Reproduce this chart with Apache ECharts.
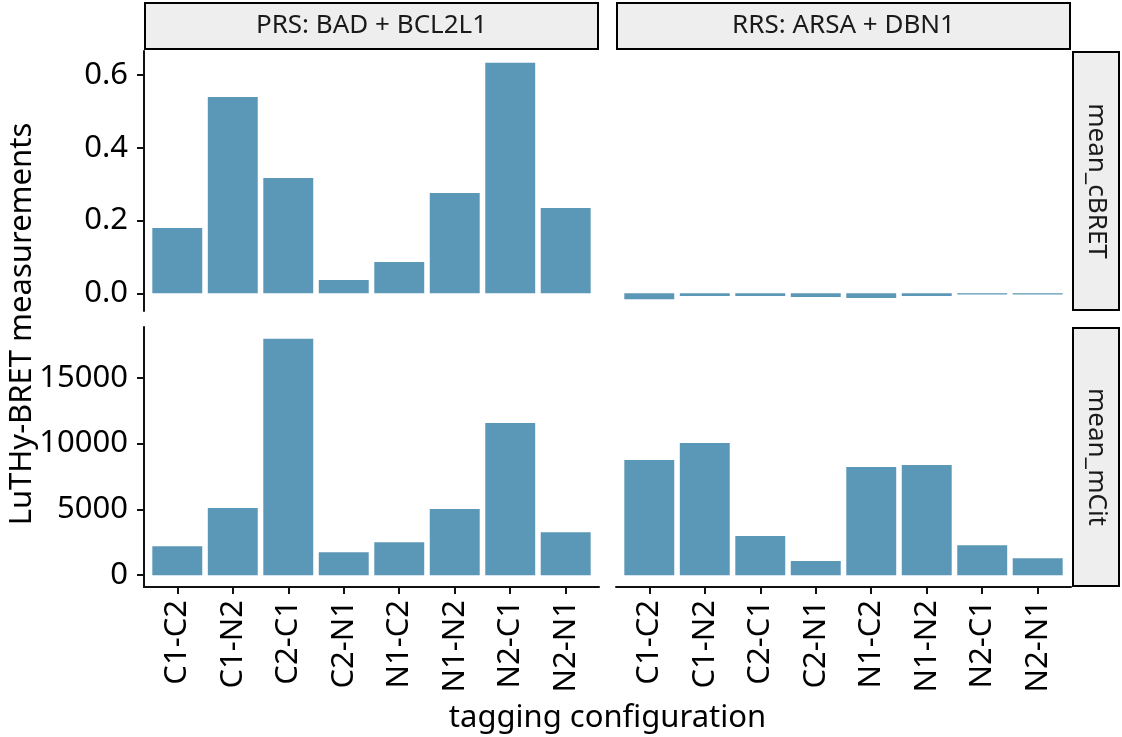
<!DOCTYPE html>
<html>
<head>
<meta charset="utf-8">
<script src="https://cdn.jsdelivr.net/npm/echarts@6/dist/echarts.min.js"></script>
<style>
  html, body { margin: 0; padding: 0; background: #ffffff; }
  #chart { width: 1122px; height: 737px; }
</style>
</head>
<body>
<div id="chart"></div>
<script>
// ---- data ----
const categories = ['C1-C2', 'C1-N2', 'C2-C1', 'C2-N1', 'N1-C2', 'N1-N2', 'N2-C1', 'N2-N1'];
const columnLabels = ['PRS: BAD + BCL2L1', 'RRS: ARSA + DBN1'];
const rowLabels = ['mean_cBRET', 'mean_mCit'];
const prsCBRET = [0.180, 0.540, 0.317, 0.037, 0.086, 0.276, 0.634, 0.235];
const rrsCBRET = [-0.016, -0.007, -0.007, -0.010, -0.013, -0.007, -0.003, -0.003];
const prsMCit = [2200, 5100, 17970, 1750, 2510, 5030, 11570, 3270];
const rrsMCit = [8750, 10050, 2970, 1070, 8220, 8380, 2280, 1290];
const cbretTicks = [0, 0.2, 0.4, 0.6];
const mcitTicks = [0, 5000, 10000, 15000];
const xTitle = 'tagging configuration';
const yTitle = 'LuTHy-BRET measurements';

// ---- helpers ----
const FONT = 'Noto Sans';
const BAR = '#5b97b6';
const INK = '#1a1a1a';
const catPos = categories.map((c, i) => i + 1);

function expandRange(arrs) {
  const all = [].concat(...arrs);
  const lo = Math.min(0, ...all), hi = Math.max(0, ...all);
  const pad = (hi - lo) * 0.05;
  return [lo - pad, hi + pad];
}
const rowRange = [expandRange([prsCBRET, rrsCBRET]), expandRange([prsMCit, rrsMCit])];

const grids = [
  { left: 144, top: 51, width: 455, height: 260 },
  { left: 616, top: 51, width: 455, height: 260 },
  { left: 144, top: 327, width: 455, height: 260 },
  { left: 616, top: 327, width: 455, height: 260 }
];
const axisLineStyle = { color: '#111', width: 2 };

const xAxes = grids.map((g, i) => {
  const bottom = i >= 2;
  return {
    type: 'value', gridIndex: i, min: 0.4, max: 8.6,
    show: bottom,
    splitLine: { show: false },
    axisLine: { show: bottom, onZero: false, lineStyle: axisLineStyle },
    axisTick: { show: bottom, length: 7, lineStyle: axisLineStyle, customValues: catPos },
    axisLabel: {
      show: bottom, rotate: 90, margin: 13, customValues: catPos,
      formatter: v => categories[Math.round(v) - 1] || '',
      fontFamily: FONT, fontSize: 31, color: '#000'
    }
  };
});

const yAxes = grids.map((g, i) => {
  const row = i < 2 ? 0 : 1;
  const left = i % 2 === 0;
  const ticks = row === 0 ? cbretTicks : mcitTicks;
  return {
    type: 'value', gridIndex: i, min: rowRange[row][0], max: rowRange[row][1],
    show: left,
    splitLine: { show: false },
    axisLine: { show: left, onZero: false, lineStyle: axisLineStyle },
    axisTick: { show: left, length: 7, lineStyle: axisLineStyle, customValues: ticks },
    axisLabel: {
      show: left, margin: 16, customValues: ticks,
      formatter: v => row === 0 ? v.toFixed(1) : String(Math.round(v)),
      fontFamily: FONT, fontSize: 31, color: '#000'
    }
  };
});

const panelData = [prsCBRET, rrsCBRET, prsMCit, rrsMCit];
const series = panelData.map((arr, i) => ({
  type: 'bar', xAxisIndex: i, yAxisIndex: i,
  data: arr.map((v, k) => [catPos[k], v]),
  barWidth: '90%',
  itemStyle: { color: BAR },
  silent: true,
  animation: false
}));

// strips (facet labels)
const graphics = [];
const stripStyle = { fill: '#eeeeee', stroke: '#000', lineWidth: 2 };
[grids[0], grids[1]].forEach((g, i) => {
  graphics.push({ type: 'rect', shape: { x: g.left + 1, y: 3, width: g.width - 2, height: 46 }, style: stripStyle, silent: true });
  graphics.push({ type: 'text', x: g.left + g.width / 2, y: 26,
    style: { text: columnLabels[i], font: '26px "' + FONT + '"', fill: INK, align: 'center', verticalAlign: 'middle' }, silent: true });
});
[grids[1], grids[3]].forEach((g, i) => {
  graphics.push({ type: 'rect', shape: { x: 1073, y: g.top + 1, width: 46, height: g.height - 2 }, style: stripStyle, silent: true });
  graphics.push({ type: 'text', x: 1096, y: g.top + g.height / 2, rotation: -Math.PI / 2,
    style: { text: rowLabels[i], font: '26px "' + FONT + '"', fill: INK, align: 'center', verticalAlign: 'middle' }, silent: true });
});
graphics.push({ type: 'text', x: 607.5, y: 718,
  style: { text: xTitle, font: '31px "' + FONT + '"', fill: '#000', align: 'center', verticalAlign: 'middle' }, silent: true });
graphics.push({ type: 'text', x: 22, y: 324, rotation: Math.PI / 2,
  style: { text: yTitle, font: '31px "' + FONT + '"', fill: '#000', align: 'center', verticalAlign: 'middle' }, silent: true });

const chart = echarts.init(document.getElementById('chart'), null, { renderer: 'canvas' });
chart.setOption({
  backgroundColor: '#ffffff',
  animation: false,
  grid: grids,
  xAxis: xAxes,
  yAxis: yAxes,
  series: series,
  graphic: graphics
});
</script>
</body>
</html>
